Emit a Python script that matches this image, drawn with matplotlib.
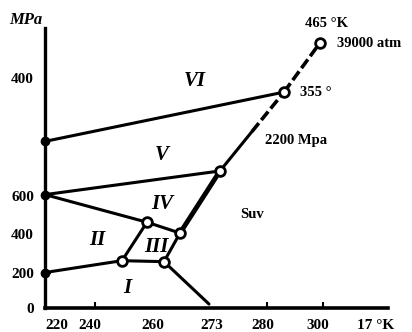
import matplotlib.pyplot as plt

# phase diagram of ice in diagram units
# (x along the temperature axis, y along the pressure axis; axis is not linear)
nodes = {
    'A600': (0, 111),
    'L6': (0, 165),
    'B200': (0, 32),
    'N1': (77, 44),
    'N2': (119, 43),
    'N3': (102, 83),
    'N4': (135, 72),
    'N5': (175, 135),
    'D1': (207, 175),
    'N6': (239, 215),
    'N7': (275, 265),
    'M273': (164, 0),
}

solid_edges = [('L6', 'N6'), ('A600', 'N5'), ('A600', 'N3'), ('N3', 'N4'),
               ('B200', 'N1'), ('N1', 'N2'), ('N1', 'N3'), ('N2', 'N4'),
               ('N2', 'M273'), ('N5', 'D1')]
thick_edges = [('N4', 'N5')]
dashed_edges = [('D1', 'N6'), ('N6', 'N7')]
open_nodes = ['N1', 'N2', 'N3', 'N4', 'N5', 'N6', 'N7']
axis_nodes = ['A600', 'L6', 'B200']

x_label_pos = [12, 45, 108, 167, 218, 273, 331]
x_labels = ['220', '240', '260', '273', '280', '300', '17 °K']
x_tick_marks = [50, 108, 222, 278]
y_label_pos = [-4, 31, 71, 110, 229]
y_labels = ['0', '200', '400', '600', '400']
y_tick_marks = [32, 71, 111, 229]

plt.rcParams['font.family'] = ['Liberation Serif', 'DejaVu Serif']
plt.rcParams['font.weight'] = 'bold'

fig = plt.figure(figsize=(4.12, 3.32), dpi=100)
ax = fig.add_axes([45 / 412, 24 / 332, 343 / 412, 280 / 332])
ax.set_xlim(0, 343)
ax.set_ylim(0, 280)

for a, b in solid_edges:
    ax.plot([nodes[a][0], nodes[b][0]], [nodes[a][1], nodes[b][1]],
            color='black', lw=2.2, solid_capstyle='round', clip_on=False)
for a, b in thick_edges:
    ax.plot([nodes[a][0], nodes[b][0]], [nodes[a][1], nodes[b][1]],
            color='black', lw=3.5, solid_capstyle='round', clip_on=False)
for a, b in dashed_edges:
    ax.plot([nodes[a][0], nodes[b][0]], [nodes[a][1], nodes[b][1]],
            color='black', lw=2.6, ls=(0, (3, 1.1)), clip_on=False)

ax.plot([nodes[n][0] for n in axis_nodes], [nodes[n][1] for n in axis_nodes],
        'o', ms=6, mfc='black', mec='black', ls='none', clip_on=False, zorder=4)
ax.plot([nodes[n][0] for n in open_nodes], [nodes[n][1] for n in open_nodes],
        'o', ms=7, mfc='white', mec='black', mew=2, ls='none', clip_on=False, zorder=5)

ax.spines['top'].set_visible(False)
ax.spines['right'].set_visible(False)
ax.spines['left'].set_linewidth(2.4)
ax.spines['bottom'].set_linewidth(2.6)

ax.set_xticks(x_label_pos, x_labels, fontsize=11, fontweight='bold')
ax.set_yticks(y_label_pos, y_labels, fontsize=11, fontweight='bold')
ax.tick_params(axis='both', which='major', length=0)
ax.tick_params(axis='x', which='major', pad=8)
ax.tick_params(axis='y', which='major', pad=8)
ax.set_xticks(x_tick_marks, minor=True)
ax.set_yticks(y_tick_marks, minor=True)
ax.tick_params(which='minor', direction='in', length=4, width=1.5)

roman = dict(fontsize=15, fontweight='bold', style='italic', ha='center', va='center')
ax.text(150, 226, 'VI', **roman)
ax.text(117, 151, 'V', **roman)
ax.text(117, 101, 'IV', **roman)
ax.text(52, 65, 'II', **roman)
ax.text(111, 58, 'III', **roman)
ax.text(82, 16, 'I', **roman)

plain = dict(fontsize=10.5, fontweight='bold', va='center')
ax.text(207, 91, 'Suv', ha='center', **plain)
ax.text(220, 166, '2200 Mpa', ha='left', **plain)
ax.text(255, 215, '355 °', ha='left', **plain)
ax.text(282, 285, '465 °K', ha='center', clip_on=False, **plain)
ax.text(292, 264, '39000 atm', ha='left', clip_on=False, **plain)
ax.text(-19, 288, 'MPa', ha='center', fontsize=12, fontweight='bold',
        style='italic', va='center', clip_on=False)

fig.savefig('out.png', dpi=100)
